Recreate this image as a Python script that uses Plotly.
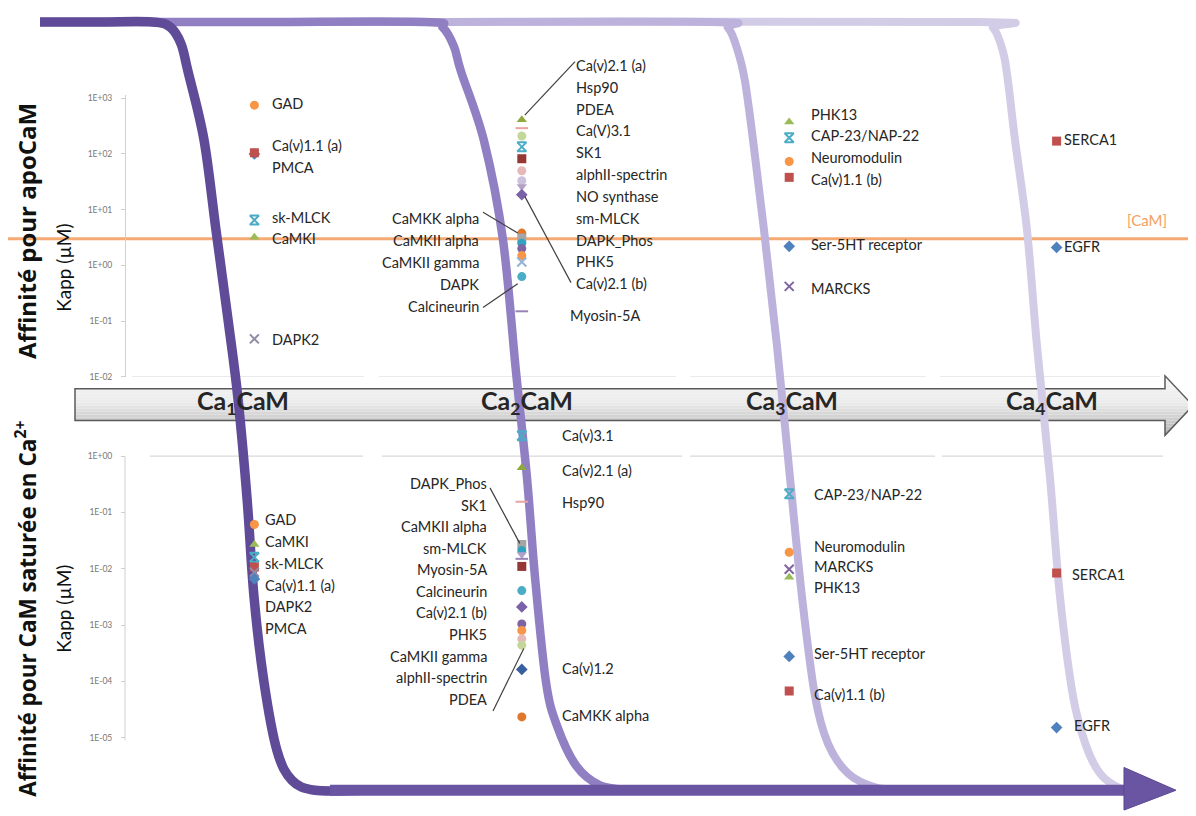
import plotly.graph_objects as go

# ---------------- DATA ----------------
stage_names = ["Ca<sub>1</sub>CaM", "Ca<sub>2</sub>CaM", "Ca<sub>3</sub>CaM", "Ca<sub>4</sub>CaM"]
stage_index = [1, 2, 3, 4]

# apoCaM panel (Kapp, uM)
apo_protein = ["GAD", "PMCA", "Ca(v)1.1 (a)", "sk-MLCK", "CaMKI", "DAPK2",
               "Ca(v)2.1 (a)", "Hsp90", "PDEA", "Ca(V)3.1", "SK1", "alphII-spectrin",
               "NO synthase", "sm-MLCK", "Ca(v)2.1 (b)", "CaMKK alpha", "DAPK_Phos",
               "CaMKII alpha", "PHK5", "CaMKII gamma", "DAPK", "Calcineurin", "Myosin-5A",
               "PHK13", "CAP-23/NAP-22", "Neuromodulin", "Ca(v)1.1 (b)", "Ser-5HT receptor", "MARCKS",
               "SERCA1", "EGFR"]
apo_stage = [1, 1, 1, 1, 1, 1,
             2, 2, 2, 2, 2, 2, 2, 2, 2, 2, 2, 2, 2, 2, 2, 2, 2,
             3, 3, 3, 3, 3, 3,
             4, 4]
apo_kapp = [750, 100, 105, 6.5, 3.2, 0.048,
            410, 290, 210, 134, 82, 50, 33, 26, 18.6, 3.8, 3.1, 2.5, 2.0, 1.5, 1.15, 0.63, 0.15,
            375, 195, 73, 38, 2.2, 0.42,
            170, 2.1]

# Ca2+-saturated CaM panel (Kapp, uM)
sat_protein = ["GAD", "CaMKI", "sk-MLCK", "Ca(v)1.1 (a)", "DAPK2", "PMCA",
               "Ca(v)3.1", "Ca(v)2.1 (a)", "Hsp90", "DAPK_Phos", "CaMKII alpha", "sm-MLCK",
               "Myosin-5A", "SK1", "Calcineurin", "Ca(v)2.1 (b)", "PHK5", "CaMKII gamma",
               "alphII-spectrin", "PDEA", "Ca(v)1.2", "CaMKK alpha",
               "CAP-23/NAP-22", "Neuromodulin", "MARCKS", "PHK13", "Ser-5HT receptor", "Ca(v)1.1 (b)",
               "SERCA1", "EGFR"]
sat_stage = [1, 1, 1, 1, 1, 1,
             2, 2, 2, 2, 2, 2, 2, 2, 2, 2, 2, 2, 2, 2, 2, 2,
             3, 3, 3, 3, 3, 3,
             4, 4]
sat_kapp = [0.061, 0.027, 0.016, 0.0107, 0.0087, 0.0066,
            2.3, 0.62, 0.155, 0.027, 0.021, 0.018, 0.015, 0.011, 0.0041, 0.0021, 0.00105,
            0.0008, 0.00057, 0.00044, 0.000163, 0.0000234,
            0.214, 0.0196, 0.0098, 0.0071, 0.000277, 0.0000675,
            0.0084, 0.0000151]

cam_conc = 3.0  # [CaM] uM

apo_ticks = [1e3, 1e2, 1e1, 1e0, 1e-1, 1e-2]
apo_ticktext = ["1E+03", "1E+02", "1E+01", "1E+00", "1E-01", "1E-02"]
sat_ticks = [1e0, 1e-1, 1e-2, 1e-3, 1e-4, 1e-5]
sat_ticktext = ["1E+00", "1E-01", "1E-02", "1E-03", "1E-04", "1E-05"]

# ---------------- STYLES ----------------
STYLE = {
    "GAD": ("circle", "#F79646"),
    "Ca(v)1.1 (a)": ("square", "#C0504D"),
    "PMCA": ("diamond", "#4F81BD"),
    "sk-MLCK": ("hourglass-open", "#4BACC6"),
    "CaMKI": ("triangle-up", "#9BBB59"),
    "DAPK2": ("x-thin-open", "#8E8CA6"),
    "Ca(v)2.1 (a)": ("triangle-up", "#8EAA3C"),
    "Hsp90": ("line-ew-open", "#E9A3A3"),
    "PDEA": ("circle", "#C4D79B"),
    "Ca(V)3.1": ("hourglass-open", "#4BACC6"),
    "Ca(v)3.1": ("hourglass-open", "#4BACC6"),
    "SK1": ("square", "#953735"),
    "alphII-spectrin": ("circle", "#E6B9B8"),
    "NO synthase": ("circle", "#CCC1DA"),
    "sm-MLCK": ("triangle-down", "#B3A2C7"),
    "Ca(v)2.1 (b)": ("diamond", "#7A62A8"),
    "CaMKK alpha": ("circle", "#E0772A"),
    "DAPK_Phos": ("square", "#A5A5A5"),
    "CaMKII alpha": ("circle", "#31A3C0"),
    "PHK5": ("circle", "#8064A2"),
    "CaMKII gamma": ("circle", "#F79646"),
    "DAPK": ("x-thin-open", "#95B3D7"),
    "Calcineurin": ("circle", "#4BACC6"),
    "Myosin-5A": ("line-ew-open", "#9983B5"),
    "Ca(v)1.2": ("diamond", "#3A5F9F"),
    "PHK13": ("triangle-up", "#9BBB59"),
    "CAP-23/NAP-22": ("hourglass-open", "#4BACC6"),
    "Neuromodulin": ("circle", "#F79646"),
    "Ca(v)1.1 (b)": ("square", "#C0504D"),
    "Ser-5HT receptor": ("diamond", "#4F81BD"),
    "MARCKS": ("x-thin-open", "#8064A2"),
    "SERCA1": ("square", "#C0504D"),
    "EGFR": ("diamond", "#4F81BD"),
}

W, H = 1196, 816
OFF = 8  # page body margin in the browser
FONT = "Lato, 'Open Sans', sans-serif"
TXT = "#262626"

# linear stage -> pixel mapping used by the x axes
ST_C, ST_K = 655.5, 267.4


def stage_px(s):
    return ST_C + ST_K * (s - 2.5)


def PX(x):
    return (x - OFF) / W


def PY(y):
    return 1 - (y - OFF) / H


X_RANGE = [2.5 + (OFF - ST_C) / ST_K, 2.5 + (W + OFF - ST_C) / ST_K]
DEC_APO = 56.2
DEC_SAT = 56.8
APO_DOMAIN = [PY(378), PY(94)]
SAT_TOP = 0.5
SAT_DOMAIN = [PY(458 + 5.05 * DEC_SAT), PY(458 - SAT_TOP * DEC_SAT)]


def marker_dict(names):
    sym = [STYLE[n][0] for n in names]
    col = [STYLE[n][1] for n in names]
    return dict(symbol=sym, color=col, size=9,
                line=dict(color=col, width=[2 if s.endswith("open") else 0 for s in sym]))


fig = go.Figure()
fig.add_trace(go.Scatter(x=apo_stage, y=apo_kapp, mode="markers", marker=marker_dict(apo_protein),
                         xaxis="x", yaxis="y", cliponaxis=False, hoverinfo="skip"))
fig.add_trace(go.Scatter(x=sat_stage, y=sat_kapp, mode="markers", marker=marker_dict(sat_protein),
                         xaxis="x2", yaxis="y2", cliponaxis=False, hoverinfo="skip"))

shapes = []


def paper_path(pts, close=False):
    s = "M %.5f,%.5f " % (PX(pts[0][0]), PY(pts[0][1]))
    for p in pts[1:]:
        s += "L %.5f,%.5f " % (PX(p[0]), PY(p[1]))
    if close:
        s += "Z"
    return s


def smooth_path(pts):
    s = "M %.5f,%.5f " % (PX(pts[0][0]), PY(pts[0][1]))
    n = len(pts)
    for i in range(n - 1):
        p0 = pts[i - 1] if i > 0 else pts[i]
        p1 = pts[i]
        p2 = pts[i + 1]
        p3 = pts[i + 2] if i + 2 < n else pts[i + 1]
        c1 = (p1[0] + (p2[0] - p0[0]) / 6, p1[1] + (p2[1] - p0[1]) / 6)
        c2 = (p2[0] - (p3[0] - p1[0]) / 6, p2[1] - (p3[1] - p1[1]) / 6)
        s += "C %.5f,%.5f %.5f,%.5f %.5f,%.5f " % (PX(c1[0]), PY(c1[1]), PX(c2[0]), PY(c2[1]),
                                                  PX(p2[0]), PY(p2[1]))
    return s


# --- grid segments (Excel panel borders)
for (a, b) in [(132, 364), (379, 676), (690, 926), (940, 1160)]:
    shapes.append(dict(type="line", xref="paper", yref="y", x0=PX(a), x1=PX(b), y0=0.01, y1=0.01,
                       line=dict(color="#D9D9D9", width=1.2), layer="below"))
for (a, b) in [(150, 363), (382, 682), (690, 935), (942, 1163)]:
    shapes.append(dict(type="line", xref="paper", yref="y2", x0=PX(a), x1=PX(b), y0=1, y1=1,
                       line=dict(color="#D9D9D9", width=1.2), layer="below"))
# bottom-panel value axis line (from 1E+00 downwards)
shapes.append(dict(type="line", xref="paper", yref="y2", x0=PX(125), x1=PX(125), y0=1, y1=10 ** -5.05,
                   line=dict(color="#D0D0D0", width=1), layer="below"))

# --- [CaM] line
shapes.append(dict(type="line", xref="paper", yref="y", x0=0, x1=1, y0=cam_conc, y1=cam_conc,
                   line=dict(color="rgba(244,160,100,0.9)", width=3), layer="below"))


# --- big grey arrow (striped gradient)
def xr(y):
    return 1165 + 28 * (1 - abs(y - 407) / 30.0)


def grey(t):
    if t < 0.45:
        v = 246 - 10 * t / 0.45
    else:
        v = 236 - 60 * (t - 0.45) / 0.55
    v = int(v)
    return "rgb(%d,%d,%d)" % (v, v, v)


bounds = sorted(set(list(range(377, 438, 3)) + [390, 422, 407, 437]))
for ya, yb in zip(bounds[:-1], bounds[1:]):
    t = ((ya + yb) / 2 - 377) / 60.0
    inbody = ya >= 390 and yb <= 422
    xl = 75 if inbody else 1165
    pts = [(xl, ya), (xr(ya), ya)]
    if ya < 407 < yb:
        pts.append((xr(407), 407))
    pts += [(xr(yb), yb), (xl, yb)]
    shapes.append(dict(type="path", xref="paper", yref="paper", path=paper_path(pts, True),
                       fillcolor=grey(t), line=dict(width=0), layer="below"))
shapes.append(dict(type="path", xref="paper", yref="paper",
                   path=paper_path([(75, 390), (1165, 390), (1165, 377), (1193, 407), (1165, 437),
                                    (1165, 422), (75, 422)], True),
                   line=dict(color="#5A5A5A", width=1.5), layer="below"))

# --- purple transition curves
curve4 = [(40, 20), (500, 20), (975, 20), (993, 26), (1003, 50), (1008, 80), (1015, 139), (1027, 230),
          (1037, 347), (1050, 480), (1060, 600), (1073, 700), (1086, 750), (1100, 778), (1118, 792), (1135, 795)]
curve3 = [(40, 20), (400, 20), (710, 20), (728, 26), (738, 50), (745, 80), (753, 139), (764, 230),
          (777, 347), (790, 480), (802, 600), (815, 700), (828, 748), (848, 778), (875, 792), (905, 795)]
curve2 = [(40, 20), (250, 20), (425, 20), (443, 26), (454, 45), (461, 70), (484, 140), (503, 240),
          (516, 373), (527, 480), (535, 580), (546, 686), (557, 730), (576, 770), (600, 790), (630, 795)]
curve1 = [(40, 20), (100, 20), (152, 20), (170, 25), (181, 42), (188, 70), (204, 139), (216, 230),
          (228, 320), (238, 400), (247, 500), (254, 600), (264, 686), (277, 755), (292, 785), (315, 795),
          (360, 795)]
for pts, col, w in [(curve4, "#D3CCE7", 8), (curve3, "#BDB2DC", 8), (curve2, "#917FC3", 8.5),
                    (curve1, "#5F4B97", 9.5)]:
    shapes.append(dict(type="path", xref="paper", yref="paper", path=smooth_path(pts),
                       line=dict(color=col, width=w), layer="below"))
# bottom arrow
shapes.append(dict(type="line", xref="paper", yref="paper", x0=PX(330), x1=PX(1130), y0=PY(795), y1=PY(795),
                   line=dict(color="#6A55A3", width=11), layer="below"))
shapes.append(dict(type="path", xref="paper", yref="paper",
                   path=paper_path([(1124, 772), (1176, 795), (1124, 815)], True),
                   fillcolor="#6A55A3", line=dict(color="#5B4794", width=1), layer="below"))

# --- leader lines (label end -> marker column of stage 2)
sp2 = stage_px(2)
for (a, b, dx, d) in [(575, 60, 3, 114), (571, 283, 3, 196), (483, 212, -4, 233), (483, 308, -4, 284),
                      (490, 490, -2, 546), (493, 715, 2, 652)]:
    shapes.append(dict(type="line", xref="paper", yref="paper", x0=PX(a), y0=PY(b), x1=PX(sp2 + dx), y1=PY(d),
                       line=dict(color="#404040", width=1.2), layer="above"))

# ---------------- LABELS ----------------
annotations = []
LSIZE = 14.5


def label(text, x, y, anchor="left", size=LSIZE, color=TXT, bold=False, family=FONT):
    t = "<b>%s</b>" % text if bold else text
    annotations.append(dict(text=t, x=PX(x), y=PY(y), xref="paper", yref="paper", showarrow=False,
                            xanchor=anchor, yanchor="middle", font=dict(family=family, size=size, color=color)))


def block(names, x, y0, dy, anchor="left"):
    for i, n in enumerate(names):
        label(n, x, y0 + i * dy, anchor)


# top panel
label("GAD", 270, 102)
block(["Ca(v)1.1 (a)", "PMCA"], 270, 145, 21.5)
label("sk-MLCK", 270, 217)
label("CaMKI", 270, 238)
label("DAPK2", 270, 340)
block(["Ca(v)2.1 (a)", "Hsp90", "PDEA", "Ca(V)3.1", "SK1", "alphII-spectrin", "NO synthase", "sm-MLCK",
       "DAPK_Phos", "PHK5", "Ca(v)2.1 (b)"], 574, 64, 22)
label("Myosin-5A", 568, 316)
block(["CaMKK alpha", "CaMKII alpha", "CaMKII gamma", "DAPK", "Calcineurin"], 481, 218, 22.2, "right")
block(["PHK13", "CAP-23/NAP-22", "Neuromodulin", "Ca(v)1.1 (b)"], 809, 113, 22)
label("Ser-5HT receptor", 809, 245)
label("MARCKS", 809, 289)
label("SERCA1", 1062, 139)
label("EGFR", 1062, 247)
label("[CaM]", 1147, 220, "center", 15, "#F4A060")

# bottom panel
block(["GAD", "CaMKI", "sk-MLCK", "Ca(v)1.1 (a)", "DAPK2", "PMCA"], 263, 522, 22)
label("Ca(v)3.1", 560, 437)
label("Ca(v)2.1 (a)", 560, 472)
label("Hsp90", 560, 505)
label("Ca(v)1.2", 560, 672)
label("CaMKK alpha", 560, 720)
block(["DAPK_Phos", "SK1", "CaMKII alpha", "sm-MLCK", "Myosin-5A", "Calcineurin", "Ca(v)2.1 (b)", "PHK5",
       "CaMKII gamma", "alphII-spectrin", "PDEA"], 489, 486, 21.7, "right")
label("CAP-23/NAP-22", 812, 497)
block(["Neuromodulin", "MARCKS", "PHK13"], 812, 549, 20.5)
label("Ser-5HT receptor", 812, 657)
label("Ca(v)1.1 (b)", 812, 698)
label("SERCA1", 1070, 577)
label("EGFR", 1072, 730)

# stage names on arrow
for name, xc in zip(stage_names, [243, 527, 792, 1052]):
    label(name, xc, 403, "center", 25, "#262626", True)

# axis titles
for text, x, y, size, bold, fam in [("Affinité pour apoCaM", 26, 231, 24, True, "'Open Sans', sans-serif"),
                                    ("Kapp (µM)", 64, 268, 19, False, FONT),
                                    ("Affinité pour CaM saturée en Ca<sup>2+</sup>", 26, 612, 22.5, True,
                                     "'Open Sans', sans-serif"),
                                    ("Kapp (µM)", 64, 612, 19, False, FONT)]:
    annotations.append(dict(text="<b>%s</b>" % text if bold else text, x=PX(x), y=PY(y),
                            xref="paper", yref="paper", showarrow=False, textangle=-90,
                            xanchor="center", yanchor="middle",
                            font=dict(family=fam, size=size, color="#111111")))

yaxis_common = dict(type="log", anchor="free", position=PX(125), linecolor="#D0D0D0",
                    linewidth=1, ticks="outside", ticklen=4, tickcolor="#D0D0D0", showgrid=False,
                    zeroline=False, ticklabelstandoff=7,
                    tickfont=dict(family=FONT, size=8.5, color="#777777"))

fig.update_layout(
    width=W, height=H, margin=dict(l=0, r=0, t=0, b=0),
    paper_bgcolor="white", plot_bgcolor="rgba(0,0,0,0)", showlegend=False,
    xaxis=dict(domain=[0, 1], range=X_RANGE, visible=False, anchor="y"),
    xaxis2=dict(domain=[0, 1], range=X_RANGE, visible=False, anchor="y2"),
    yaxis=dict(domain=APO_DOMAIN, range=[-2, 3.053], tickvals=apo_ticks, ticktext=apo_ticktext,
               showline=True, **yaxis_common),
    yaxis2=dict(domain=SAT_DOMAIN, range=[-5.05, SAT_TOP], tickvals=sat_ticks, ticktext=sat_ticktext,
                showline=False, **yaxis_common),
    shapes=shapes, annotations=annotations,
)

fig.write_html("out.html")
